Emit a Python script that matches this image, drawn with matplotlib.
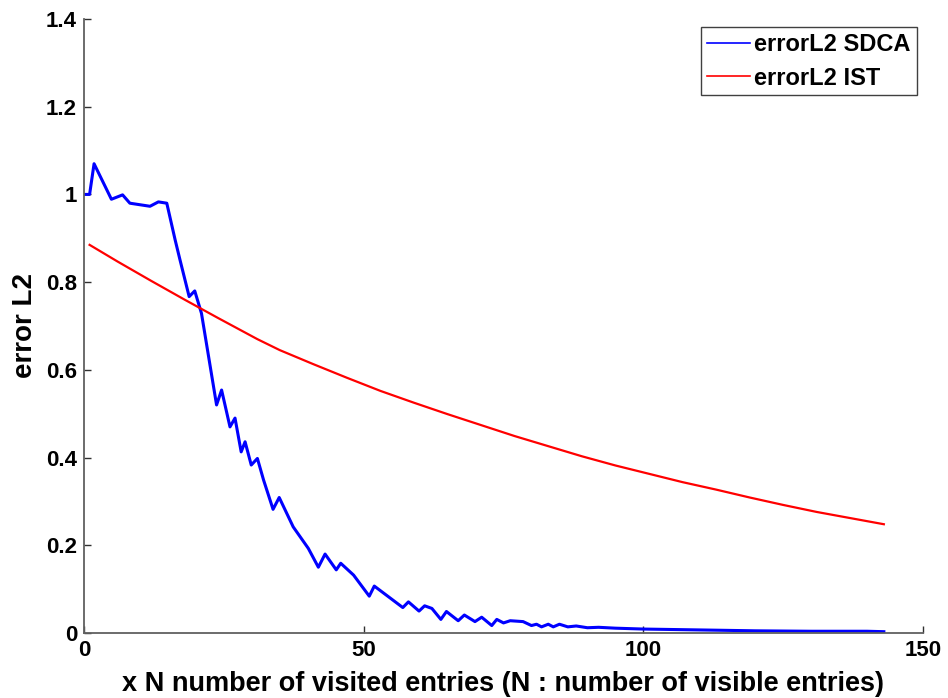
import numpy as np
import matplotlib
matplotlib.use("Agg")
import matplotlib.pyplot as plt

# blue series: errorL2 SDCA
sdca_x = [0, 1, 1.8, 4.9, 6.9, 8.2, 11.8, 13.3, 14.8, 16.3, 17.1, 18.8, 19.8,
          21.0, 23.7, 24.6, 26.1, 27.0, 28.1, 28.8, 29.9, 31.0, 32.1, 33.8,
          34.9, 37.4, 40.1, 41.9, 43.1, 45.1, 45.9, 48.2, 51.0, 51.9, 54.4,
          57.0, 58.0, 59.9, 60.9, 62.2, 63.8, 64.8, 66.9, 68.0, 69.9, 71.1,
          72.9, 73.8, 75.0, 76.2, 78.5, 80.0, 80.9, 81.8, 83.0, 83.9, 85.0,
          86.5, 88, 90, 92, 95, 100, 105, 110, 115, 120, 130, 140, 143]
sdca_y = [1.0, 1.0, 1.07, 0.989, 0.999, 0.98, 0.973, 0.983, 0.98, 0.896,
          0.854, 0.767, 0.780, 0.729, 0.52, 0.554, 0.470, 0.490, 0.413,
          0.436, 0.383, 0.398, 0.349, 0.282, 0.309, 0.242, 0.193, 0.150,
          0.180, 0.144, 0.159, 0.132, 0.084, 0.107, 0.083, 0.058, 0.071,
          0.050, 0.062, 0.056, 0.031, 0.049, 0.028, 0.041, 0.026, 0.036,
          0.017, 0.031, 0.023, 0.028, 0.026, 0.017, 0.020, 0.014, 0.020,
          0.014, 0.020, 0.014, 0.016, 0.012, 0.013, 0.011, 0.009, 0.008,
          0.007, 0.006, 0.005, 0.004, 0.004, 0.003]

# red series: errorL2 IST
ist_x = [1, 6, 12, 18, 24, 31, 35, 41, 47, 53, 59, 65, 71, 77, 83, 89, 95,
         101, 107, 113, 119, 125, 131, 137, 143]
ist_y = [0.885, 0.847, 0.803, 0.760, 0.718, 0.670, 0.645, 0.613, 0.582,
         0.552, 0.525, 0.499, 0.474, 0.449, 0.426, 0.403, 0.382, 0.363,
         0.344, 0.327, 0.309, 0.292, 0.276, 0.262, 0.248]

xticks = [0, 50, 100, 150]
yticks = [0, 0.2, 0.4, 0.6, 0.8, 1.0, 1.2, 1.4]
ytick_labels = ["0", "0.2", "0.4", "0.6", "0.8", "1", "1.2", "1.4"]

plt.rcParams["font.family"] = ["Liberation Sans", "DejaVu Sans"]
plt.rcParams["font.weight"] = "bold"

fig = plt.figure(figsize=(9.48, 6.98), dpi=100)
ax = fig.add_axes([84 / 948, 1 - 633 / 698, (923 - 84) / 948, (633 - 19) / 698])

ax.plot(sdca_x, sdca_y, color="#0000ff", lw=2.2, label="errorL2 SDCA")
ax.plot(ist_x, ist_y, color="#ff0000", lw=1.6, label="errorL2 IST")

ax.set_xlim(0, 150)
ax.set_ylim(0, 1.4)
ax.set_xticks(xticks)
ax.set_xticklabels([str(v) for v in xticks])
ax.set_yticks(yticks)
ax.set_yticklabels(ytick_labels)

for side in ["top", "right"]:
    ax.spines[side].set_visible(False)
for side in ["left", "bottom"]:
    ax.spines[side].set_color("#606060")
    ax.spines[side].set_linewidth(1.3)

ax.tick_params(direction="in", length=5, width=1, color="#303030",
               labelsize=16, pad=5)
for lab in ax.get_xticklabels() + ax.get_yticklabels():
    lab.set_fontweight("bold")

ax.set_xlabel("x N number of visited entries (N : number of visible entries)",
              fontsize=19.5, fontweight="bold", labelpad=7)
ax.set_ylabel("error L2", fontsize=20, fontweight="bold", labelpad=6)

leg = ax.legend(loc="upper right", bbox_to_anchor=(0.9924, 0.987),
                fontsize=17, fancybox=False, framealpha=1, edgecolor="#404040",
                handlelength=1.8, handletextpad=0.2, borderpad=0.25,
                labelspacing=0.45, borderaxespad=0)
leg.get_frame().set_linewidth(1.0)
for t in leg.get_texts():
    t.set_fontweight("bold")
for h in leg.get_lines():
    h.set_linewidth(1.2)

fig.savefig("out.png", dpi=100)
